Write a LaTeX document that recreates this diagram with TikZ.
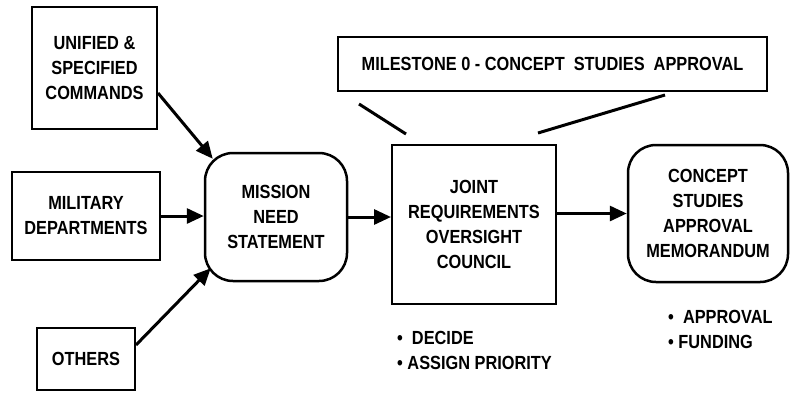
\documentclass[tikz,border=0pt]{standalone}
\usepackage{fontspec}
\setmainfont{Liberation Sans}[FakeStretch=0.86]
\usetikzlibrary{arrows.meta}
\begin{document}
\begin{tikzpicture}[x=1pt, y=-1pt,
    every node/.style={align=center, inner sep=0pt, font=\bfseries\fontsize{19}{25}\selectfont},
    box/.style={draw, line width=2pt},
    roundbox/.style={draw, line width=2.5pt, rounded corners=28pt},
    flow/.style={line width=3pt, -{Triangle[length=17pt,width=15pt]}},
    callout/.style={line width=3pt}]
  \useasboundingbox (0,0) rectangle (791,392);
  % sources
  \node[box, minimum width=125pt, minimum height=122pt] (unified) at (94.5,68) {UNIFIED \&\\SPECIFIED\\COMMANDS};
  \node[box, minimum width=148pt, minimum height=88pt] (military) at (86,216) {MILITARY\\DEPARTMENTS};
  \node[box, minimum width=98pt, minimum height=62pt] (others) at (86,359) {OTHERS};
  % main flow
  \node[roundbox, minimum width=142pt, minimum height=128pt] (mns) at (276,217) {MISSION\\NEED\\STATEMENT};
  \node[box, minimum width=164pt, minimum height=159pt] (jroc) at (474,224.5) {JOINT\\REQUIREMENTS\\OVERSIGHT\\COUNCIL};
  \node[roundbox, minimum width=160pt, minimum height=137pt] (csam) at (708,213.5) {CONCEPT\\STUDIES\\APPROVAL\\MEMORANDUM};
  \node[box, minimum width=429pt, minimum height=54pt] (milestone) at (552.5,64) {MILESTONE 0 - CONCEPT\ \ STUDIES\ \ APPROVAL};
  % notes
  \node[anchor=west, align=left] (jrocnotes) at (397,350.5) {•\ \ DECIDE\\• ASSIGN PRIORITY};
  \node[anchor=west, align=left] (csamnotes) at (668,329) {•\ \ APPROVAL\\• FUNDING};
  % arrows
  \draw[flow] ([yshift=-25pt]unified.east) -- ([xshift=9pt,yshift=-7pt]mns.north west);
  \draw[flow] (military.east) -- (military.east -| mns.west);
  \draw[flow] ([yshift=14pt]others.east) -- ([xshift=7pt,yshift=14pt]mns.south west);
  \draw[flow] (mns.east) -- (mns.east -| jroc.west);
  \draw[flow] (jroc.east |- csam.west) -- (csam.west);
  % milestone callout
  \draw[callout] ([xshift=22pt,yshift=-12pt]milestone.south west) -- ([xshift=15pt,yshift=10pt]jroc.north west);
  \draw[callout] ([xshift=112.5pt,yshift=-3pt]milestone.south) -- ([xshift=-19pt,yshift=11pt]jroc.north east);
\end{tikzpicture}
\end{document}
